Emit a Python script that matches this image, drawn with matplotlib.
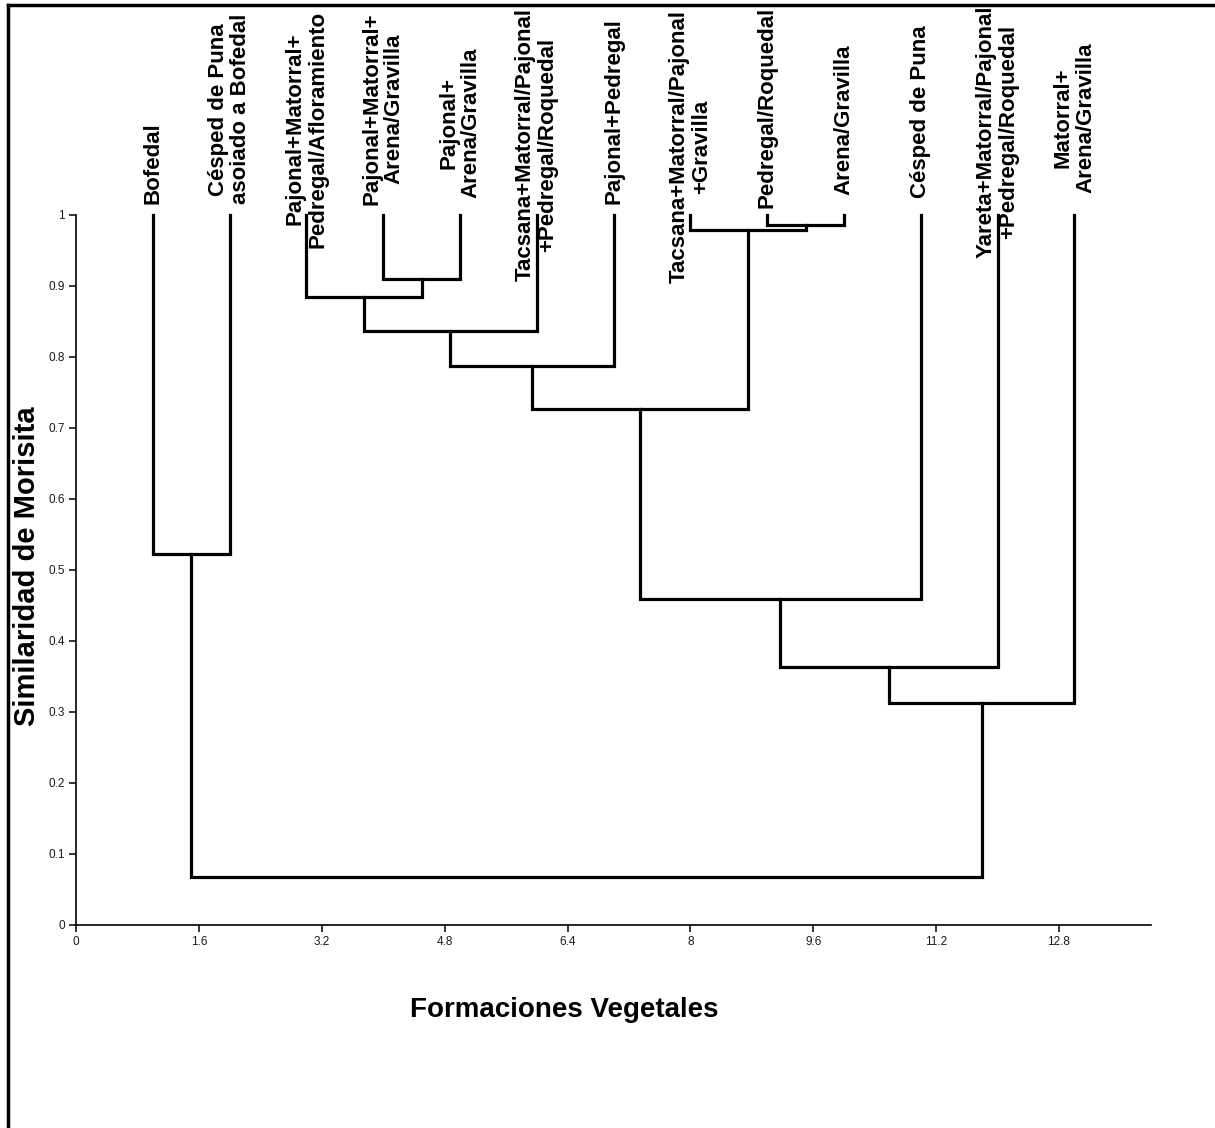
import matplotlib
matplotlib.use('Agg')
import matplotlib.pyplot as plt
from matplotlib.lines import Line2D

plt.rcParams['font.family'] = ['Liberation Sans', 'DejaVu Sans']

# ---------- data ----------
leaf_labels = [
    'Bofedal',
    'Césped de Puna\nasoiado a Bofedal',
    'Pajonal+Matorral+\nPedregal/Afloramiento',
    'Pajonal+Matorral+\nArena/Gravilla',
    'Pajonal+\nArena/Gravilla',
    'Tacsana+Matorral/Pajonal\n+Pedregal/Roquedal',
    'Pajonal+Pedregal',
    'Tacsana+Matorral/Pajonal\n+Gravilla',
    'Pedregal/Roquedal',
    'Arena/Gravilla',
    'Césped de Puna',
    'Yareta+Matorral/Pajonal\n+Pedregal/Roquedal',
    'Matorral+\nArena/Gravilla',
]
leaf_pos = [1, 2, 3, 4, 5, 6, 7, 8, 9, 10, 11, 12, 13]

# merges (scipy style ids: leaves 0..12, new clusters 13, 14, ...)
merge_a = [8, 7, 3, 2, 16, 17, 18, 19, 20, 21, 0, 23]
merge_b = [9, 13, 4, 15, 5, 6, 14, 10, 11, 12, 1, 22]
merge_sim = [0.986, 0.979, 0.91, 0.885, 0.837, 0.787, 0.727, 0.459, 0.363, 0.313, 0.522, 0.068]

xtick_vals = [0, 1.6, 3.2, 4.8, 6.4, 8, 9.6, 11.2, 12.8]
xtick_labels = ['0', '1.6', '3.2', '4.8', '6.4', '8', '9.6', '11.2', '12.8']
ytick_vals = [0, 0.1, 0.2, 0.3, 0.4, 0.5, 0.6, 0.7, 0.8, 0.9, 1]
ytick_labels = ['0', '0.1', '0.2', '0.3', '0.4', '0.5', '0.6', '0.7', '0.8', '0.9', '1']

# vertical centre of each rotated label (data units, above the plot)
label_y = [1.073, 1.149, 1.121, 1.149, 1.130, 1.099, 1.146,
           1.096, 1.152, 1.134, 1.145, 1.117, 1.137]

# ---------- figure ----------
fig = plt.figure(figsize=(12.15, 11.28), dpi=100)
ax = fig.add_axes([0.0626, 0.1800, 0.8848, 0.6294])

# cluster positions
xs = list(leaf_pos)
hs = [1.0] * len(leaf_pos)
for a, b, s in zip(merge_a, merge_b, merge_sim):
    ax.plot([xs[a], xs[a], xs[b], xs[b]], [hs[a], s, s, hs[b]],
            color='black', lw=2.3, solid_joinstyle='miter', clip_on=False)
    xs.append((xs[a] + xs[b]) / 2)
    hs.append(s)

for x, lab, y in zip(leaf_pos, leaf_labels, label_y):
    ax.text(x, y, lab, rotation=90, ha='center', va='center',
            multialignment='center', fontsize=16, fontweight='bold',
            linespacing=1.08, clip_on=False)

ax.set_xlim(0, 14)
ax.set_ylim(0, 1)
ax.set_xticks(xtick_vals)
ax.set_xticklabels(xtick_labels)
ax.set_yticks(ytick_vals)
ax.set_yticklabels(ytick_labels)
ax.tick_params(direction='out', length=5, width=1.1, labelsize=8.5,
               labelcolor='#1a1a1a', pad=3)
for side in ['top', 'right']:
    ax.spines[side].set_visible(False)
for side in ['left', 'bottom']:
    ax.spines[side].set_linewidth(1.2)

fig.text(0.0225, 0.498, 'Similaridad de Morisita', rotation=90,
         ha='center', va='center', fontsize=21, fontweight='bold')
fig.text(0.464, 0.1046, 'Formaciones Vegetales',
         ha='center', va='center', fontsize=20, fontweight='bold')

# frame lines of the original image
fig.add_artist(Line2D([8 / 1215, 1], [1 - 5 / 1128, 1 - 5 / 1128],
                      transform=fig.transFigure, color='black', lw=2.5))
fig.add_artist(Line2D([8 / 1215, 8 / 1215], [0, 1 - 5 / 1128],
                      transform=fig.transFigure, color='black', lw=2.5))

fig.savefig('out.png', dpi=100)
